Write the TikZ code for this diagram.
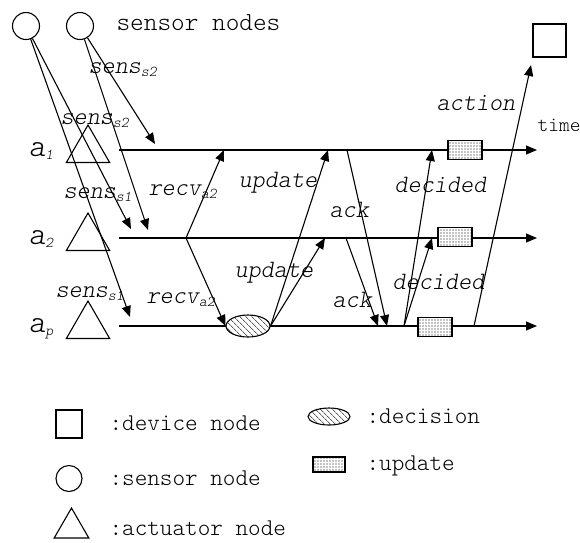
\documentclass[tikz,border=0pt]{standalone}
\usepackage{fontspec}
\setmonofont{lmmonolt10-regular.otf}[ItalicFont=lmmonolt10-oblique.otf]
\usepackage{tikz}
\usetikzlibrary{shapes.geometric,arrows.meta,patterns.meta}

\newcommand{\lowidx}[1]{\raisebox{-3pt}{\fontsize{15}{16}\selectfont #1}}

\begin{document}
\begin{tikzpicture}[x=1pt,y=-1pt,line width=1.1pt,>={Triangle[length=11pt,width=9pt]}]
    \tikzstyle{sensor}=[circle,draw=black,minimum size=27pt,inner sep=0pt]
    \tikzstyle{actuator}=[regular polygon,regular polygon sides=3,draw=black,minimum size=50pt,inner sep=0pt]
    \tikzstyle{device}=[rectangle,draw=black,minimum size=33pt,inner sep=0pt]
    \tikzstyle{decision}=[ellipse,draw=black,fill=white,minimum width=44pt,minimum height=22pt,inner sep=0pt,
        postaction={pattern={Lines[angle=-45,distance=4pt,line width=0.6pt]}}]
    \tikzstyle{upd}=[rectangle,draw=black,fill=white,minimum width=34pt,minimum height=19pt,inner sep=0pt,
        postaction={pattern={Dots[distance=3pt,radius=0.55pt]}}]
    \tikzstyle{lab}=[inner sep=0pt,anchor=base west,font=\ttfamily\itshape\fontsize{25}{27}\selectfont]
    \tikzstyle{txt}=[inner sep=0pt,anchor=base west,font=\ttfamily\fontsize{24}{26}\selectfont]

    \useasboundingbox (0,0) rectangle (580,542);

    % sensors and device
    \foreach \num/\x in {1/26, 2/80}
        \node[sensor] (S-\num) at (\x,26) {};
    \node[txt,font=\ttfamily\fontsize{26}{28}\selectfont] (sensortxt) at (116,30) {sensor nodes};
    \node[device] (D) at (549.5,40.5) {};

    % actuators and time lines
    \foreach \num/\y in {1/150, 2/238, p/326} {
        \node[actuator] (A-\num) at (88,\y) {};
        \node[lab,font=\ttfamily\itshape\fontsize{32}{34}\selectfont] (name-\num) at (28,\y+6) {a\lowidx{\num}};
        \coordinate (L-\num) at (119,\y);
        \coordinate (E-\num) at (537,\y);
        \draw[->] (L-\num) -- (E-\num);
    }
    \node[txt,font=\ttfamily\fontsize{20.5}{22}\selectfont] (time) at (537,131) {time};

    % sensing
    \coordinate (in-1) at (155,144);
    \coordinate (in-2a) at (131,229);
    \coordinate (in-2b) at (148,230);
    \coordinate (in-p) at (130,317);
    \draw[->] (S-2) -- (in-1);
    \draw[->] (S-2) -- (in-2b);
    \draw[->] (S-1) -- (in-2a);
    \draw[->] (S-1) -- (in-p);

    % recv and decision
    \node[decision] (dec) at (248,326) {};
    \coordinate (r-2) at (186,238);
    \coordinate (r-1) at (224,150);
    \draw[->] (r-2) -- (r-1);
    \draw[->] (r-2) -- (dec.west);

    % update
    \coordinate (u-1) at (328,150);
    \coordinate (u-2) at (325,238);
    \draw[->] (dec.east) -- (u-1);
    \draw[->] (dec.east) -- (u-2);

    % ack
    \coordinate (k-1) at (347,150);
    \coordinate (k-2) at (346,238);
    \coordinate (k-p1) at (378,326);
    \coordinate (k-p2) at (387,326);
    \draw[->] (k-1) -- (k-p2);
    \draw[->] (k-2) -- (k-p1);

    % decided
    \coordinate (d-p) at (404,326);
    \coordinate (d-1) at (432,150);
    \coordinate (d-2) at (432,238);
    \draw[->] (d-p) -- (d-1);
    \draw[->] (d-p) -- (d-2);

    \foreach \num/\x/\y in {1/465/150, 2/455/237, p/435/327}
        \node[upd] (U-\num) at (\x,\y) {};

    % action
    \coordinate (act) at (474,326);
    \coordinate (act-end) at (531,65);
    \draw[->] (act) -- (act-end);

    % message labels
    \node[lab] (m-1) at (88,73) {sens\lowidx{s2}};
    \node[lab] (m-2) at (60,124) {sens\lowidx{s2}};
    \node[lab] (m-3) at (63,198) {sens\lowidx{s1}};
    \node[lab] (m-4) at (55,297) {sens\lowidx{s1}};
    \node[lab] (m-5) at (148,195) {recv\lowidx{a2}};
    \node[lab] (m-6) at (146,303) {recv\lowidx{a2}};
    \node[lab] (m-7) at (238,187) {update};
    \node[lab] (m-8) at (234,277) {update};
    \node[lab] (m-9) at (329,217) {ack};
    \node[lab] (m-10) at (332,307) {ack};
    \node[lab] (m-11) at (394,192) {decided};
    \node[lab] (m-12) at (392,289) {decided};
    \node[lab] (m-13) at (436,110) {action};

    % legend
    \node[device,minimum width=26pt,minimum height=28pt] (LD) at (69,424) {};
    \node[sensor,minimum size=26pt] (LS) at (69,478.5) {};
    \node[actuator,minimum size=40pt] (LA) at (71.5,528) {};
    \node[decision,minimum width=42pt,minimum height=17pt] (LE) at (329,416.5) {};
    \node[upd,minimum width=32pt,minimum height=15pt] (LU) at (329,464.5) {};
    \node[txt] (tD) at (109,430) {:device node};
    \node[txt] (tS) at (109,485) {:sensor node};
    \node[txt] (tA) at (109,535) {:actuator node};
    \node[txt] (tE) at (366,423) {:decision};
    \node[txt] (tU) at (366,470) {:update};
\end{tikzpicture}
\end{document}
